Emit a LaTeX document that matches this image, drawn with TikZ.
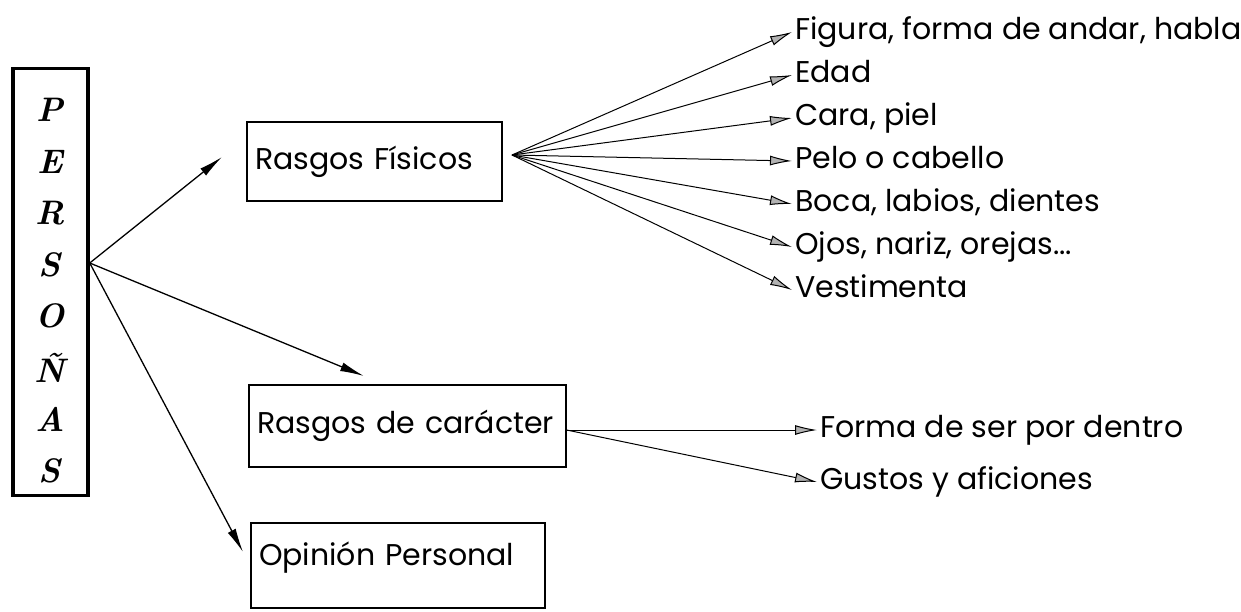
\documentclass[tikz,border=0pt]{standalone}
\usepackage{fontspec}
\newfontfamily\comicfont{Poppins}
\usetikzlibrary{positioning,arrows.meta}

\begin{document}
\begin{tikzpicture}[
		x=1pt, y=-1pt,
		caja/.style={
			draw,
			line width=1.2pt,
			align=left,
			inner xsep=8pt,
			font=\comicfont\fontsize{30}{36}\selectfont,
		},
		rasgo/.style={
			anchor=west,
			inner sep=3pt,
			text height=21pt,
			text depth=7pt,
			font=\comicfont\fontsize{30}{36}\selectfont,
		},
		letra/.style={
			font=\fontsize{34}{38}\selectfont\bfseries\itshape,
		},
		flecha/.style={-{Latex[length=24pt,width=9pt]}, line width=1.3pt},
		subflecha/.style={-{Latex[length=22pt,width=10pt,fill=gray!60]}, line width=1pt},
		]
		\useasboundingbox (0,0) rectangle (1241,611);
		% Draw the PERSONAS box
		\node [draw, line width=3.5pt, minimum width=75pt, minimum height=427pt, inner sep=0pt] (personas) at (50.5,282) {};
		\foreach \i/\txt in {0/P,1/E,2/R,3/S,4/O,5/Ñ,6/A,7/S} {
			\node [letra] (letra\i) at (50,110+51.5*\i) {\txt};
		}
		\coordinate (origen) at (personas.east |- 0,263);
		% Draw the three groups
		\node [caja, minimum width=255pt, minimum height=79pt, text width=239pt] (fisicos) at (374.5,161.5) {Rasgos Físicos};
		\node [caja, minimum width=317pt, minimum height=82pt, text width=301pt] (caracter) at (407.5,426) {Rasgos de carácter};
		\node [caja, minimum width=294pt, minimum height=85pt, text width=278pt, text depth=24pt] (opinion) at (398,565.5) {Opinión Personal};
		\coordinate (puntaF) at (222,157);
		\coordinate (puntaC) at (364,376);
		\coordinate (puntaO) at (243,552);
		\draw [flecha] (origen) -- (puntaF);
		\draw [flecha] (origen) -- (puntaC);
		\draw [flecha] (origen) -- (puntaO);
		% Draw the physical features
		\coordinate (salidaF) at (512,155);
		\foreach \i/\txt in {1/{Figura, forma de andar, habla},2/Edad,3/{Cara, piel},4/Pelo o cabello,5/{Boca, labios, dientes},6/{Ojos, nariz, orejas...},7/Vestimenta} {
			\node [rasgo] (fis\i) at (792,-11+43*\i) {\txt};
			\draw [subflecha] (salidaF) -- (fis\i.west);
		}
		% Draw the character features
		\coordinate (salidaC) at (caracter.east |- 0,430);
		\foreach \i/\txt in {1/Forma de ser por dentro,2/Gustos y aficiones} {
			\node [rasgo] (car\i) at (817,378+52*\i) {\txt};
			\draw [subflecha] (salidaC) -- (car\i.west);
		}
	\end{tikzpicture}
\end{document}
